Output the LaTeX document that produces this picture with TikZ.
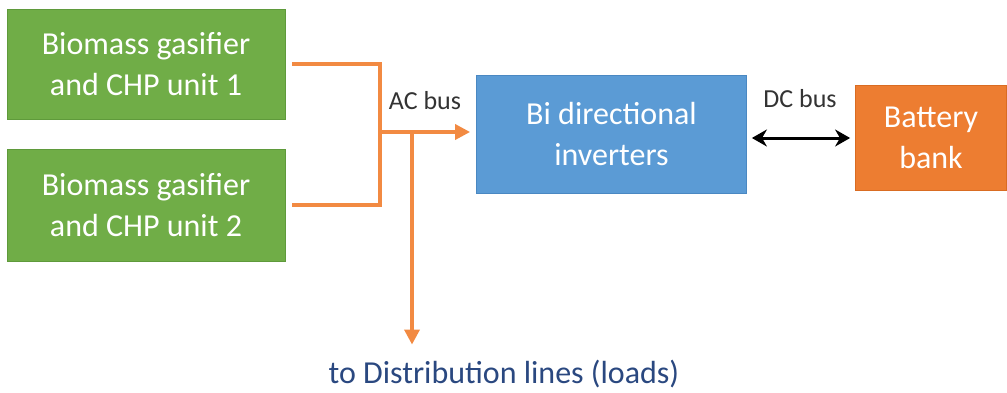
\documentclass[tikz,border=0pt]{standalone}
\usepackage{fontspec}
\setmainfont{Carlito}
\usetikzlibrary{arrows.meta, positioning}

\definecolor{genfill}{HTML}{70AD47}
\definecolor{genedge}{HTML}{5F9A3B}
\definecolor{invfill}{HTML}{5B9BD5}
\definecolor{invedge}{HTML}{4A88C2}
\definecolor{battfill}{HTML}{ED7D31}
\definecolor{battedge}{HTML}{D96C22}
\definecolor{busorange}{HTML}{F28A42}
\definecolor{loadblue}{HTML}{2A4880}
\definecolor{labelgray}{HTML}{333333}

\begin{document}
\begin{tikzpicture}[
    x=1pt, y=-1pt,
    unitbox/.style={draw, thick, align=center, text=white, inner sep=0,
      font=\fontsize{32}{41}\selectfont},
    busline/.style={busorange, line width=3.5pt},
    buslabel/.style={text=labelgray, font=\fontsize{26}{30}\selectfont},
  ]
  \useasboundingbox (0,0) rectangle (1007,392);

  \node [unitbox, fill=genfill, draw=genedge, minimum width=278pt, minimum height=110pt]
    (gen1) at (146,64) {Biomass gasifier\\and CHP unit 1};
  \node [unitbox, fill=genfill, draw=genedge, minimum width=278pt, minimum height=112pt]
    (gen2) at (146,205) {Biomass gasifier\\and CHP unit 2};
  \node [unitbox, fill=invfill, draw=invedge, minimum width=270pt, minimum height=118pt]
    (inv) at (611.5,134) {Bi directional\\inverters};
  \node [unitbox, fill=battfill, draw=battedge, minimum width=151pt, minimum height=105pt]
    (batt) at (931,137.5) {Battery\\bank};

  \node [buslabel] (acbus) at (425,101) {AC bus};
  \node [buslabel] (dcbus) at (800,99) {DC bus};
  \node [text=loadblue, font=\fontsize{32}{38}\selectfont] (loads) at (504,374)
    {to Distribution lines (loads)};

  \coordinate (acjoin) at (380,132);
  \coordinate (actap) at (412,132);

  % Connect the units to the AC bus
  \draw [busline] ([xshift=7pt]gen1.east) -| (acjoin);
  \draw [busline] ([xshift=7pt]gen2.east) -| (acjoin);
  \draw [busline, -{Triangle[length=15pt, width=15pt]}, shorten >=6pt]
    (acjoin) -- (acjoin -| inv.west);
  \draw [busline, -{Triangle[length=15pt, width=15pt]}, shorten >=12pt]
    (actap) -- (actap |- loads.north);

  % DC side
  \draw [black, line width=3pt, {Stealth[length=15pt, width=17pt]}-{Stealth[length=15pt, width=17pt]},
    shorten <=5pt, shorten >=5pt] ([yshift=-4pt]inv.east) -- ([yshift=-4pt]inv.east -| batt.west);
\end{tikzpicture}
\end{document}
